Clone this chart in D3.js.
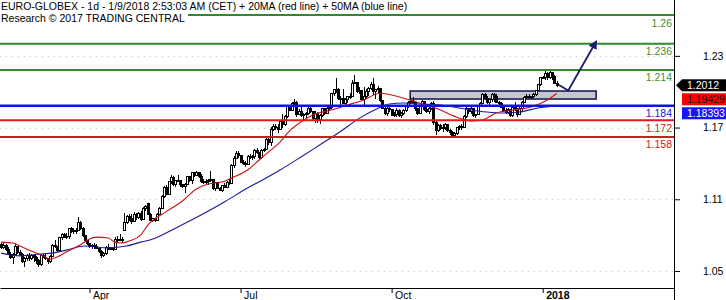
<!DOCTYPE html>
<html>
<head>
<meta charset="utf-8">
<script src="https://cdn.jsdelivr.net/npm/d3@7"></script>
<style>
  body { margin: 0; background: #fff; }
  svg { display: block; font-family: "Liberation Sans", Arial, sans-serif; }
</style>
</head>
<body>
<svg id="chart" width="726" height="300"></svg>
<script>
// ---- data ----
const firstDay = [2017, 1, 8];          // Feb 8 2017, first bar
const totalSlots = 290;                 // bars + empty room on the right

// daily candles [open, high, low, close]
const candles = [
  [1.0680,1.0690,1.0640,1.0655],[1.0655,1.0700,1.0645,1.0675],[1.0675,1.0680,1.0625,1.0640],[1.0640,1.0655,1.0590,1.0600],[1.0600,1.0620,1.0560,1.0575],
  [1.0575,1.0610,1.0520,1.0600],[1.0600,1.0680,1.0590,1.0660],[1.0660,1.0670,1.0600,1.0615],[1.0615,1.0630,1.0585,1.0600],[1.0600,1.0610,1.0525,1.0540],
  [1.0540,1.0575,1.0495,1.0560],[1.0560,1.0600,1.0545,1.0585],[1.0585,1.0610,1.0545,1.0560],[1.0560,1.0600,1.0550,1.0585],[1.0585,1.0600,1.0530,1.0570],
  [1.0570,1.0580,1.0520,1.0545],[1.0545,1.0560,1.0495,1.0510],[1.0510,1.0600,1.0500,1.0590],[1.0590,1.0610,1.0565,1.0575],[1.0575,1.0600,1.0550,1.0560],
  [1.0560,1.0570,1.0520,1.0540],[1.0540,1.0590,1.0525,1.0580],[1.0580,1.0680,1.0575,1.0670],[1.0670,1.0720,1.0650,1.0660],[1.0660,1.0670,1.0620,1.0630],
  [1.0630,1.0745,1.0625,1.0735],[1.0735,1.0780,1.0720,1.0765],[1.0765,1.0780,1.0735,1.0740],[1.0740,1.0775,1.0725,1.0745],[1.0745,1.0820,1.0730,1.0810],
  [1.0810,1.0825,1.0780,1.0795],[1.0795,1.0815,1.0770,1.0785],[1.0785,1.0815,1.0765,1.0800],[1.0800,1.0910,1.0795,1.0865],[1.0865,1.0875,1.0800,1.0815],
  [1.0815,1.0825,1.0740,1.0755],[1.0755,1.0760,1.0705,1.0715],[1.0715,1.0720,1.0675,1.0690],[1.0690,1.0695,1.0650,1.0665],[1.0665,1.0680,1.0645,1.0670],
  [1.0670,1.0690,1.0640,1.0665],[1.0665,1.0680,1.0640,1.0650],[1.0650,1.0660,1.0610,1.0620],[1.0620,1.0630,1.0570,1.0590],[1.0590,1.0620,1.0575,1.0605],
  [1.0605,1.0665,1.0595,1.0655],[1.0655,1.0680,1.0630,1.0645],[1.0645,1.0660,1.0630,1.0650],[1.0650,1.0660,1.0625,1.0640],[1.0640,1.0740,1.0635,1.0725],
  [1.0725,1.0750,1.0700,1.0715],[1.0715,1.0770,1.0705,1.0720],[1.0720,1.0740,1.0690,1.0725],[1.0800,1.0940,1.0795,1.0860],[1.0860,1.0930,1.0850,1.0915],
  [1.0915,1.0935,1.0880,1.0895],[1.0895,1.0935,1.0855,1.0875],[1.0875,1.0950,1.0870,1.0930],[1.0930,1.0945,1.0885,1.0905],[1.0905,1.0955,1.0895,1.0940],
  [1.0940,1.0960,1.0880,1.0890],[1.0890,1.0995,1.0885,1.0985],[1.0985,1.1010,1.0960,1.0995],[1.1020,1.1025,1.0925,1.0935],[1.0935,1.0945,1.0875,1.0880],
  [1.0880,1.0905,1.0870,1.0895],[1.0895,1.0905,1.0865,1.0880],[1.0880,1.0945,1.0875,1.0935],[1.0935,1.0990,1.0925,1.0980],[1.0980,1.1090,1.0975,1.1080],
  [1.1080,1.1170,1.1065,1.1160],[1.1160,1.1175,1.1095,1.1100],[1.1100,1.1215,1.1090,1.1205],[1.1205,1.1265,1.1185,1.1240],[1.1240,1.1250,1.1170,1.1185],
  [1.1185,1.1220,1.1165,1.1215],[1.1215,1.1260,1.1200,1.1215],[1.1215,1.1220,1.1160,1.1180],[1.1180,1.1190,1.1150,1.1165],[1.1165,1.1195,1.1110,1.1185],
  [1.1185,1.1250,1.1175,1.1245],[1.1245,1.1255,1.1205,1.1215],[1.1215,1.1290,1.1190,1.1280],[1.1280,1.1290,1.1245,1.1255],[1.1255,1.1295,1.1250,1.1280],
  [1.1280,1.1285,1.1235,1.1250],[1.1250,1.1270,1.1195,1.1210],[1.1210,1.1225,1.1185,1.1195],[1.1195,1.1225,1.1190,1.1205],[1.1205,1.1225,1.1180,1.1215],
  [1.1215,1.1295,1.1200,1.1220],[1.1220,1.1225,1.1135,1.1145],[1.1145,1.1205,1.1130,1.1195],[1.1195,1.1205,1.1145,1.1150],[1.1150,1.1165,1.1125,1.1135],
  [1.1135,1.1180,1.1120,1.1170],[1.1170,1.1195,1.1150,1.1155],[1.1155,1.1210,1.1150,1.1200],[1.1200,1.1225,1.1180,1.1190],[1.1190,1.1355,1.1185,1.1340],
  [1.1340,1.1420,1.1320,1.1400],[1.1400,1.1460,1.1395,1.1440],[1.1440,1.1465,1.1405,1.1425],[1.1425,1.1430,1.1360,1.1370],[1.1370,1.1385,1.1345,1.1355],
  [1.1355,1.1375,1.1330,1.1350],[1.1350,1.1425,1.1345,1.1420],[1.1420,1.1440,1.1395,1.1405],[1.1405,1.1425,1.1390,1.1415],[1.1415,1.1475,1.1395,1.1465],
  [1.1465,1.1490,1.1440,1.1450],[1.1450,1.1455,1.1395,1.1405],[1.1405,1.1475,1.1395,1.1465],[1.1465,1.1490,1.1450,1.1475],[1.1475,1.1580,1.1470,1.1560],
  [1.1560,1.1585,1.1515,1.1535],[1.1535,1.1660,1.1505,1.1645],[1.1645,1.1690,1.1630,1.1665],[1.1665,1.1685,1.1635,1.1655],[1.1655,1.1685,1.1610,1.1645],
  [1.1645,1.1725,1.1640,1.1710],[1.1710,1.1775,1.1655,1.1680],[1.1680,1.1760,1.1675,1.1750],[1.1750,1.1850,1.1740,1.1835],[1.1835,1.1845,1.1795,1.1805],
  [1.1805,1.1870,1.1800,1.1860],[1.1860,1.1895,1.1840,1.1865],[1.1865,1.1880,1.1750,1.1770],[1.1770,1.1815,1.1765,1.1795],[1.1795,1.1830,1.1745,1.1760],
  [1.1760,1.1780,1.1720,1.1765],[1.1765,1.1790,1.1735,1.1775],[1.1775,1.1845,1.1765,1.1820],[1.1820,1.1830,1.1780,1.1790],[1.1790,1.1800,1.1725,1.1735],
  [1.1735,1.1795,1.1695,1.1780],[1.1780,1.1785,1.1700,1.1725],[1.1725,1.1770,1.1690,1.1760],[1.1760,1.1825,1.1745,1.1815],[1.1815,1.1820,1.1765,1.1780],
  [1.1780,1.1830,1.1775,1.1815],[1.1815,1.1840,1.1795,1.1830],[1.1830,1.1950,1.1815,1.1940],[1.1940,1.1985,1.1925,1.1975],[1.1975,1.2070,1.1950,1.1980],
  [1.1980,1.1990,1.1885,1.1900],[1.1900,1.1920,1.1825,1.1905],[1.1905,1.1980,1.1855,1.1860],[1.1860,1.1905,1.1850,1.1890],[1.1890,1.1925,1.1860,1.1915],
  [1.1915,1.1945,1.1895,1.1920],[1.1920,1.2060,1.1910,1.2025],[1.2025,1.2095,1.2020,1.2035],[1.2035,1.2040,1.1950,1.1960],[1.1960,1.1995,1.1940,1.1965],
  [1.1965,1.1975,1.1885,1.1895],[1.1895,1.1995,1.1840,1.1920],[1.1920,1.1985,1.1905,1.1960],[1.1960,1.1995,1.1925,1.1985],[1.1985,1.2040,1.1975,1.2015],
  [1.2015,1.2075,1.1930,1.1960],[1.1960,1.1985,1.1900,1.1975],[1.1975,1.2005,1.1945,1.1985],[1.1985,1.1990,1.1875,1.1885],[1.1885,1.1890,1.1810,1.1820],
  [1.1820,1.1830,1.1760,1.1780],[1.1780,1.1835,1.1755,1.1815],[1.1815,1.1840,1.1790,1.1810],[1.1810,1.1815,1.1755,1.1760],[1.1760,1.1790,1.1745,1.1765],
  [1.1765,1.1820,1.1750,1.1805],[1.1805,1.1815,1.1750,1.1760],[1.1760,1.1785,1.1740,1.1775],[1.1775,1.1810,1.1765,1.1800],[1.1800,1.1850,1.1790,1.1840],
  [1.1840,1.1880,1.1825,1.1865],[1.1865,1.1925,1.1855,1.1880],[1.1880,1.1915,1.1860,1.1870],[1.1870,1.1880,1.1800,1.1815],[1.1815,1.1825,1.1760,1.1775],
  [1.1775,1.1850,1.1770,1.1840],[1.1840,1.1890,1.1830,1.1875],[1.1875,1.1880,1.1800,1.1810],[1.1810,1.1830,1.1780,1.1790],[1.1790,1.1830,1.1775,1.1820],
  [1.1820,1.1875,1.1805,1.1860],[1.1860,1.1880,1.1680,1.1700],[1.1700,1.1710,1.1600,1.1630],[1.1630,1.1685,1.1620,1.1675],[1.1675,1.1690,1.1640,1.1650],
  [1.1650,1.1690,1.1620,1.1660],[1.1660,1.1700,1.1635,1.1680],[1.1680,1.1690,1.1620,1.1630],[1.1630,1.1645,1.1600,1.1615],[1.1615,1.1630,1.1580,1.1595],
  [1.1595,1.1620,1.1585,1.1610],[1.1610,1.1665,1.1600,1.1655],[1.1655,1.1680,1.1640,1.1670],[1.1670,1.1685,1.1640,1.1660],[1.1660,1.1760,1.1655,1.1750],
  [1.1750,1.1840,1.1740,1.1820],[1.1820,1.1825,1.1770,1.1790],[1.1790,1.1830,1.1775,1.1815],[1.1815,1.1820,1.1745,1.1755],[1.1755,1.1775,1.1740,1.1765],
  [1.1765,1.1850,1.1760,1.1845],[1.1845,1.1870,1.1835,1.1860],[1.1860,1.1950,1.1855,1.1935],[1.1935,1.1945,1.1890,1.1905],[1.1905,1.1920,1.1855,1.1870],
  [1.1870,1.1900,1.1850,1.1890],[1.1890,1.1950,1.1875,1.1935],[1.1935,1.1945,1.1870,1.1920],[1.1920,1.1935,1.1860,1.1870],[1.1870,1.1880,1.1845,1.1860],
  [1.1860,1.1870,1.1820,1.1830],[1.1830,1.1840,1.1790,1.1800],[1.1800,1.1820,1.1770,1.1785],[1.1785,1.1820,1.1775,1.1810],[1.1810,1.1815,1.1750,1.1760],
  [1.1760,1.1840,1.1750,1.1830],[1.1830,1.1870,1.1800,1.1810],[1.1810,1.1820,1.1750,1.1770],[1.1770,1.1830,1.1765,1.1820],[1.1820,1.1880,1.1800,1.1870],
  [1.1870,1.1920,1.1860,1.1910],[1.1910,1.1935,1.1895,1.1915],[1.1915,1.1940,1.1900,1.1910],[1.1910,1.1925,1.1900,1.1915],[1.1915,1.1945,1.1905,1.1935],
  [1.1935,1.1975,1.1920,1.1970],[1.1970,1.2025,1.1960,1.2015],[1.2015,1.2085,1.2005,1.2075],[1.2075,1.2090,1.2065,1.2080],[1.2080,1.2135,1.2060,1.2110],
  [1.2110,1.2125,1.2060,1.2075],[1.2075,1.2130,1.2065,1.2115],[1.2115,1.2125,1.2060,1.2085],[1.2085,1.2095,1.2020,1.2030],[1.2030,1.2050,1.2000,1.2012]
];

// moving averages read as [bar, price]
const ma20 = [[0,1.0700],[5,1.0692],[9,1.0659],[14,1.0617],[17,1.0595],[21,1.0558],[24,1.0575],[28,1.0617],[34,1.0675],[38,1.0726],
  [41,1.0742],[46,1.0734],[49,1.0700],[52,1.0692],[55,1.0709],[60,1.0759],[63,1.0840],[71,1.0955],[78,1.1044],[84,1.1144],
  [89,1.1186],[95,1.1203],[100,1.1244],[106,1.1303],[111,1.1387],[116,1.1470],[120,1.1537],[124,1.1629],[129,1.1705],[134,1.1763],
  [142,1.1805],[149,1.1847],[156,1.1889],[163,1.1945],[167,1.1935],[173,1.1905],[180,1.1864],[188,1.1813],[197,1.1738],[203,1.1713],
  [207,1.1721],[213,1.1780],[220,1.1805],[228,1.1830],[235,1.1889],[239,1.19429]];
const ma50 = [[0,1.0608],[8,1.0585],[17,1.0600],[22,1.0608],[28,1.0633],[36,1.0667],[46,1.0652],[54,1.0667],[60,1.0700],[64,1.0717],
  [76,1.0826],[86,1.0926],[96,1.1035],[106,1.1152],[114,1.1236],[120,1.1303],[129,1.1412],[137,1.1512],[146,1.1625],[154,1.1735],
  [162,1.1818],[167,1.1855],[173,1.1864],[180,1.1855],[189,1.1847],[197,1.1822],[209,1.1788],[216,1.1780],[223,1.1788],[231,1.1822],
  [239,1.18393]];

const levels = [1.26, 1.236, 1.214, 1.184, 1.172, 1.158];
const levelLabels = ["1.26", "1.236", "1.214", "1.184", "1.172", "1.158"];
const yTicks = [1.05, 1.11, 1.17, 1.23];
const monthKeys = ["2017-04", "2017-07", "2017-10", "2018-01"];
const monthLabels = ["Apr", "Jul", "Oct", "2018"];
const lastValues = [1.2012, 1.19429, 1.18393];
const lastLabels = ["1.2012", "1.19429", "1.18393"];
const zoneBars = [176, 256];
const zonePrices = [1.1964, 1.1897];
const arrowBars = [240, 244, 256];
const arrowPrices = [1.2014, 1.1968, 1.2378];

// ---- styles ----
const levelColors = ["#2f8a2f", "#2f8a2f", "#2f8a2f", "#1010e8", "#ee1515", "#c82020"];
const levelTextColors = ["#3d8f3d", "#3d8f3d", "#3d8f3d", "#1818c0", "#d01818", "#d01818"];
const levelWidths = [2, 2, 2, 2.5, 2, 2];
const tagFills = ["#000", "#f00", "#1414ff"];
const tagText = ["#fff", "#111", "#fff"];

const W = 726, H = 300;
const plotRight = 674, axisY = 288;

// trading-day calendar (weekdays only)
const slots = [];
for (let d = new Date(firstDay[0], firstDay[1], firstDay[2]); slots.length < totalSlots; d.setDate(d.getDate() + 1)) {
    const wd = d.getDay();
    if (wd !== 0 && wd !== 6) slots.push(new Date(d));
}
const fmtMonth = d3.timeFormat("%Y-%m");
const monthIdx = monthKeys.map(k => slots.findIndex(d => fmtMonth(d) === k));

const svg = d3.select("#chart");

const x = d3.scaleLinear().domain([-0.5, totalSlots - 0.5]).range([0, plotRight]);
const y = d3.scaleLinear().domain([1.05, 1.26]).range([266, 15]);
const axisShift = 5;

// dotted grid
svg.append("g").selectAll("line").data(yTicks).enter().append("line")
    .attr("x1", 0).attr("x2", plotRight)
    .attr("y1", d => Math.round(y(d) + axisShift) + 0.5)
    .attr("y2", d => Math.round(y(d) + axisShift) + 0.5)
    .attr("stroke", "#c4c4c4").attr("stroke-dasharray", "1,5");

// target zone
svg.append("rect")
    .attr("x", x(zoneBars[0])).attr("width", x(zoneBars[1]) - x(zoneBars[0]))
    .attr("y", y(zonePrices[0])).attr("height", y(zonePrices[1]) - y(zonePrices[0]))
    .attr("fill", "#c6c6ce").attr("stroke", "#1c1c5a").attr("stroke-width", 1.6);

// candles
const cg = svg.append("g").attr("shape-rendering", "crispEdges");
candles.forEach((c, i) => {
    const [o, h, l, cl] = c;
    const cx = Math.round(x(i)) + 0.5;
    cg.append("line")
        .attr("x1", cx).attr("x2", cx)
        .attr("y1", y(h)).attr("y2", y(l))
        .attr("stroke", "#000");
    const top = y(Math.max(o, cl)), bot = y(Math.min(o, cl));
    cg.append("rect")
        .attr("x", cx - 1).attr("width", 2)
        .attr("y", top).attr("height", Math.max(1, bot - top))
        .attr("fill", cl >= o ? "#fff" : "#000")
        .attr("stroke", "#000");
});

// moving averages
const maLine = d3.line().x(d => x(d[0])).y(d => y(d[1])).curve(d3.curveMonotoneX);
svg.append("path").datum(ma50).attr("d", maLine)
    .attr("fill", "none").attr("stroke", "#1a1aa0").attr("stroke-width", 1.1);
svg.append("path").datum(ma20).attr("d", maLine)
    .attr("fill", "none").attr("stroke", "#cc1111").attr("stroke-width", 1.1);

// support / resistance levels
levels.forEach((lv, i) => {
    svg.append("line")
        .attr("x1", 0).attr("x2", plotRight)
        .attr("y1", y(lv)).attr("y2", y(lv))
        .attr("stroke", levelColors[i]).attr("stroke-width", levelWidths[i]);
    svg.append("text")
        .attr("x", plotRight - 2).attr("y", y(lv) + 11.5)
        .attr("text-anchor", "end")
        .style("font-size", "10.5px")
        .attr("fill", levelTextColors[i])
        .text(levelLabels[i]);
});

// arrow
svg.append("defs").append("marker")
    .attr("id", "head").attr("viewBox", "0 0 10 10")
    .attr("refX", 8).attr("refY", 5)
    .attr("markerWidth", 9).attr("markerHeight", 9)
    .attr("markerUnits", "userSpaceOnUse")
    .attr("orient", "auto")
    .append("path").attr("d", "M0,0 L10,5 L0,10 Z").attr("fill", "#1c1c6a");
svg.append("path")
    .datum(arrowBars.map((b, i) => [b, arrowPrices[i]]))
    .attr("d", d3.line().x(d => x(d[0])).y(d => y(d[1])))
    .attr("fill", "none").attr("stroke", "#1c1c6a").attr("stroke-width", 1.8)
    .attr("marker-end", "url(#head)");

// bottom axis
const xAxis = svg.append("g")
    .attr("transform", `translate(0,${axisY})`)
    .call(d3.axisBottom(x).tickValues(monthIdx).tickSize(5).tickSizeOuter(0)
        .tickFormat((d, i) => monthLabels[i]));
xAxis.select(".domain").attr("stroke", "#000");
xAxis.selectAll("text")
    .attr("text-anchor", "start").attr("x", 3).attr("y", 4)
    .style("font-size", "10.5px").style("font-family", "Liberation Sans, Arial, sans-serif")
    .attr("fill", "#000")
    .style("font-weight", (d, i) => monthLabels[i] === "2018" ? "bold" : "normal");

// right axis
svg.append("line").attr("x1", plotRight + 0.5).attr("x2", plotRight + 0.5)
    .attr("y1", 0).attr("y2", H).attr("stroke", "#000");
const yAxis = svg.append("g")
    .attr("transform", `translate(${plotRight},${axisShift})`)
    .call(d3.axisRight(y).tickValues(yTicks).tickSize(6).tickPadding(23)
        .tickFormat(d3.format(".2f")));
yAxis.select(".domain").remove();
yAxis.selectAll("text")
    .style("font-size", "10.5px").style("font-family", "Liberation Sans, Arial, sans-serif")
    .attr("fill", "#000");

// last value tags
let prevBottom = -Infinity;
lastValues.forEach((v, i) => {
    const hgt = 12;
    const cy = Math.max(y(v), prevBottom + 2 + hgt / 2);
    prevBottom = cy + hgt / 2;
    if (i === 0) {
        svg.append("path")
            .attr("d", `M${plotRight + 2},${cy} L${plotRight + 8},${cy - hgt / 2} L${plotRight + 8},${cy + hgt / 2} Z`)
            .attr("fill", tagFills[i]);
    }
    svg.append("rect")
        .attr("x", plotRight + 8).attr("y", cy - hgt / 2)
        .attr("width", W - plotRight - 8).attr("height", hgt)
        .attr("fill", tagFills[i]);
    svg.append("text")
        .attr("x", plotRight + 13).attr("y", cy + 4)
        .style("font-size", "10.5px")
        .attr("fill", tagText[i])
        .text(lastLabels[i]);
});

// title
svg.append("text").attr("x", 1).attr("y", 9.5)
    .style("font-size", "10.5px").attr("fill", "#000")
    .text("EURO-GLOBEX - 1d - 1/9/2018 2:53:03 AM (CET) + 20MA (red line) + 50MA (blue line)");
const sub = svg.append("text").attr("x", 1).attr("y", 22)
    .style("font-size", "10.5px").attr("fill", "#000")
    .text("Research \u00a9 2017 TRADING CENTRAL");
const bb = sub.node().getBBox();
svg.insert("rect", () => sub.node())
    .attr("x", 0).attr("y", 12)
    .attr("width", bb.x + bb.width + 3).attr("height", 13)
    .attr("fill", "#fff");
</script>
</body>
</html>
